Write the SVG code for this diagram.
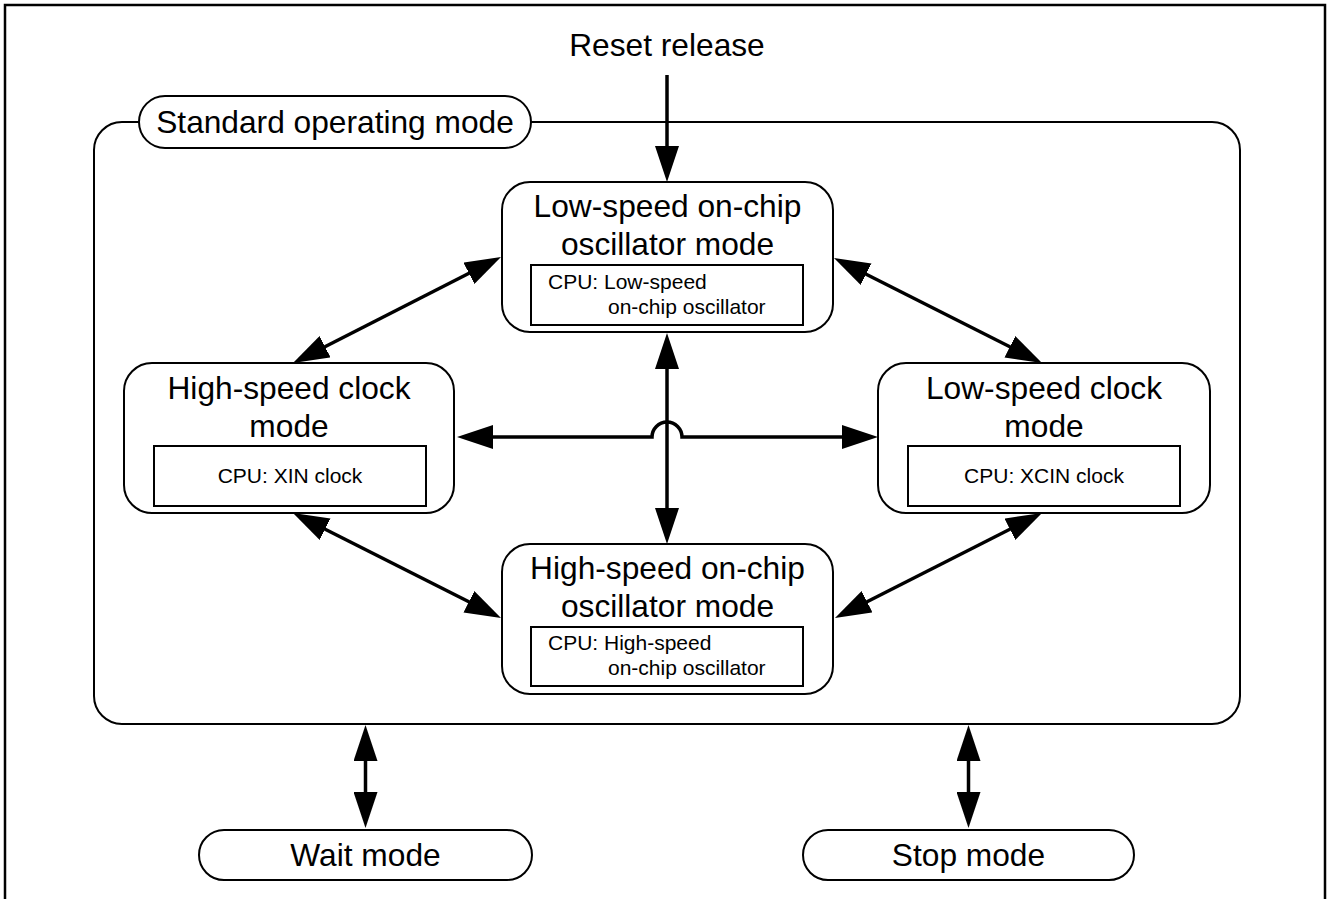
<svg xmlns="http://www.w3.org/2000/svg" width="1328" height="899" viewBox="0 0 1328 899">
  <style>
    text { font-family: "Liberation Sans", Arial, Helvetica, sans-serif; fill: #000; }
    .title { font-size: 31.7px; text-anchor: middle; }
    .sub { font-size: 21px; }
    .subc { font-size: 21px; text-anchor: middle; }
    .box { fill: #fff; stroke: #000; stroke-width: 2; }
    .inner { fill: #fff; stroke: #000; stroke-width: 2; }
    .conn { fill: none; stroke: #000; stroke-width: 3.5; }
  </style>
  <defs>
    <marker id="ah" viewBox="0 0 36 24" refX="26" refY="12" markerWidth="36" markerHeight="24" markerUnits="userSpaceOnUse" orient="auto-start-reverse">
      <path d="M0,0 L36,12 L0,24 Z" fill="#000"/>
    </marker>
  </defs>
  <rect width="1328" height="899" fill="#fff"/>
  <path d="M5,899 V5 H1325 V899" fill="none" stroke="#000" stroke-width="2.5"/>

  <g id="reset-label">
    <text class="title" x="667" y="56">Reset release</text>
  </g>

  <g id="standard-operating-mode">
    <rect class="box" x="94" y="122" width="1146" height="602" rx="28" ry="28"/>
    <rect class="box" x="139" y="96" width="392" height="52" rx="26" ry="26"/>
    <text class="title" x="335" y="133">Standard operating mode</text>
  </g>

  <g id="low-speed-on-chip">
    <rect class="box" x="502" y="182" width="331" height="150" rx="28" ry="28"/>
    <text class="title" x="667.5" y="217">Low-speed on-chip</text>
    <text class="title" x="667.5" y="255">oscillator mode</text>
    <rect class="inner" x="531" y="265" width="272" height="60"/>
    <text class="sub" x="548" y="289">CPU: Low-speed</text>
    <text class="sub" x="608" y="314">on-chip oscillator</text>
  </g>

  <g id="high-speed-clock">
    <rect class="box" x="124" y="363" width="330" height="150" rx="28" ry="28"/>
    <text class="title" x="289" y="399">High-speed clock</text>
    <text class="title" x="289" y="437">mode</text>
    <rect class="inner" x="154" y="446" width="272" height="60"/>
    <text class="subc" x="290" y="483">CPU: XIN clock</text>
  </g>

  <g id="low-speed-clock">
    <rect class="box" x="878" y="363" width="332" height="150" rx="28" ry="28"/>
    <text class="title" x="1044" y="399">Low-speed clock</text>
    <text class="title" x="1044" y="437">mode</text>
    <rect class="inner" x="908" y="446" width="272" height="60"/>
    <text class="subc" x="1044" y="483">CPU: XCIN clock</text>
  </g>

  <g id="high-speed-on-chip">
    <rect class="box" x="502" y="544" width="331" height="150" rx="28" ry="28"/>
    <text class="title" x="667.5" y="579">High-speed on-chip</text>
    <text class="title" x="667.5" y="617">oscillator mode</text>
    <rect class="inner" x="531" y="627" width="272" height="59"/>
    <text class="sub" x="548" y="650">CPU: High-speed</text>
    <text class="sub" x="608" y="675">on-chip oscillator</text>
  </g>

  <g id="wait-mode">
    <rect class="box" x="199" y="830" width="333" height="50" rx="25" ry="25"/>
    <text class="title" x="365.5" y="866">Wait mode</text>
  </g>

  <g id="stop-mode">
    <rect class="box" x="803" y="830" width="331" height="50" rx="25" ry="25"/>
    <text class="title" x="968.5" y="866">Stop mode</text>
  </g>

  <g id="connectors">
    <path class="conn" d="M667,75 V172" marker-end="url(#ah)"/>
    <path class="conn" d="M667,343 V534" marker-start="url(#ah)" marker-end="url(#ah)"/>
    <path class="conn" d="M467,437 H652 A15,15 0 0 1 682,437 H868" marker-start="url(#ah)" marker-end="url(#ah)"/>
    <path class="conn" d="M301.9,358.5 L492.1,261.5" marker-start="url(#ah)" marker-end="url(#ah)"/>
    <path class="conn" d="M842.9,262.5 L1033.1,358.5" marker-start="url(#ah)" marker-end="url(#ah)"/>
    <path class="conn" d="M301.9,517.5 L492.1,613.5" marker-start="url(#ah)" marker-end="url(#ah)"/>
    <path class="conn" d="M1033.1,517.5 L843.9,613.5" marker-start="url(#ah)" marker-end="url(#ah)"/>
    <path class="conn" d="M365.5,735 V818" marker-start="url(#ah)" marker-end="url(#ah)"/>
    <path class="conn" d="M968.5,735 V818" marker-start="url(#ah)" marker-end="url(#ah)"/>
  </g>
</svg>
